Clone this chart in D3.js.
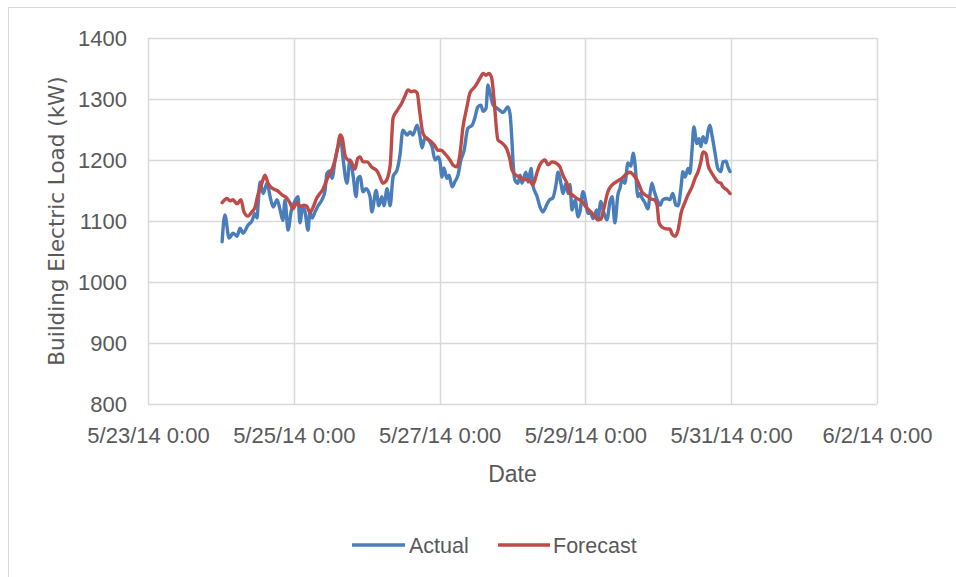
<!DOCTYPE html>
<html>
<head>
<meta charset="utf-8">
<script src="https://cdn.jsdelivr.net/npm/d3@7/dist/d3.min.js"></script>
<style>
  html, body { margin: 0; padding: 0; background: #ffffff; }
  svg { display: block; }
</style>
</head>
<body>
<script>
// Hours after 5/24/14 0:00 and load values (kW)
const actualHours = [0.4,1.3,2.7,4.0,5.3,6.3,7.3,8.9,10.2,11.2,11.9,12.2,12.9,13.9,15.2,16.2,17.2,18.5,19.5,20.4,21.1,22.1,23.1,24.1,25.4,26.0,27.0,27.7,28.7,29.3,30.0,31.0,32.0,33.3,34.3,34.9,35.9,36.6,37.6,38.5,39.5,40.2,41.5,42.5,43.5,44.5,45.1,45.8,46.8,47.8,49.1,49.7,51.1,52.0,53.0,53.7,54.7,55.7,56.7,58.0,59.0,59.9,61.3,62.3,63.2,64.6,65.5,66.2,67.2,68.5,69.5,70.5,71.5,72.1,72.8,73.4,74.4,75.1,76.1,77.1,78.1,79.0,80.0,81.3,82.7,83.6,84.6,85.6,86.3,87.3,87.9,88.6,89.6,91.2,92.9,94.5,95.2,95.8,96.2,96.8,97.8,98.5,99.1,100.4,101.1,102.1,102.7,104.1,105.0,106.0,107.4,108.3,109.3,110.3,111.0,112.0,112.6,113.6,114.3,114.9,115.6,116.6,117.6,118.2,119.2,120.2,120.8,121.8,122.5,123.8,124.1,125.1,126.1,127.1,128.1,128.8,129.7,130.7,131.4,132.0,133.0,134.0,135.0,135.7,136.3,137.3,138.0,138.6,139.6,140.6,141.3,141.9,142.6,143.6,144.6,145.5,146.9,147.8,148.8,149.8,150.5,151.5,152.1,152.8,153.8,154.4,155.1,155.7,156.7,157.4,158.0,158.7,159.7,160.4,161.0,161.7,162.7,163.6,164.6,165.3,166.3,166.9,167.6];
const actualLoad = [1066,1110,1072,1080,1075,1088,1080,1093,1100,1112,1105,1123,1164,1145,1162,1140,1123,1135,1118,1101,1134,1085,1115,1130,1140,1097,1125,1115,1085,1115,1105,1115,1125,1135,1150,1178,1182,1170,1200,1221,1233,1203,1162,1200,1175,1140,1170,1173,1148,1153,1140,1115,1150,1125,1140,1125,1153,1125,1173,1184,1210,1249,1241,1246,1241,1257,1240,1220,1237,1232,1222,1200,1205,1198,1172,1187,1170,1175,1156,1165,1176,1200,1214,1252,1257,1269,1287,1290,1280,1285,1323,1310,1290,1284,1278,1287,1275,1233,1195,1167,1162,1175,1162,1180,1164,1186,1159,1140,1124,1115,1128,1135,1138,1159,1180,1160,1145,1162,1145,1160,1118,1134,1107,1115,1148,1129,1113,1112,1104,1118,1102,1132,1113,1102,1132,1140,1097,1143,1154,1167,1162,1195,1190,1211,1195,1140,1145,1138,1130,1120,1145,1162,1150,1135,1126,1135,1137,1135,1145,1126,1125,1156,1181,1172,1186,1178,1216,1254,1227,1235,1222,1238,1228,1248,1257,1240,1211,1186,1181,1197,1198,1189,1181];

const forecastHours = [0.4,2.0,3.0,4.0,5.3,6.6,7.6,8.9,10.2,11.2,12.2,13.5,14.5,15.5,16.8,18.5,20.1,21.8,22.7,23.7,25.0,26.0,27.4,28.3,29.3,30.3,31.6,32.6,33.6,34.9,36.6,37.6,38.5,39.2,39.9,40.9,41.8,42.8,44.1,45.1,45.8,46.8,48.1,49.7,51.4,52.3,53.3,54.3,55.7,56.7,58.0,59.6,60.6,61.6,62.6,63.6,64.6,65.5,66.5,67.8,68.8,70.2,71.5,72.5,73.8,75.4,76.4,77.7,78.7,79.7,81.0,82.0,83.6,85.3,86.3,87.3,88.3,89.2,89.9,91.2,92.5,94.2,95.2,95.8,97.1,98.5,99.4,100.8,101.8,102.7,104.1,105.0,106.7,107.7,109.0,110.3,111.6,112.6,113.9,114.9,115.6,117.2,118.9,120.5,121.8,123.2,124.1,125.1,126.1,127.4,128.8,130.4,132.0,133.7,134.7,135.7,137.0,138.0,138.6,139.6,140.6,141.6,142.6,143.6,144.2,145.2,146.9,147.8,148.5,149.5,150.5,151.5,152.8,153.8,155.1,156.1,157.1,158.0,158.7,159.7,160.4,161.3,162.3,163.6,164.6,165.3,166.6,167.6];
const forecastLoad = [1130,1137,1133,1135,1128,1135,1115,1108,1115,1122,1143,1162,1175,1162,1154,1150,1143,1137,1130,1120,1130,1124,1126,1124,1114,1122,1138,1145,1152,1168,1185,1200,1222,1241,1237,1207,1200,1198,1185,1203,1205,1197,1197,1188,1182,1173,1162,1165,1190,1269,1281,1294,1305,1315,1312,1313,1310,1277,1244,1235,1232,1225,1216,1216,1210,1200,1192,1189,1210,1254,1287,1310,1320,1334,1342,1339,1342,1333,1300,1233,1228,1217,1200,1184,1175,1172,1168,1168,1165,1159,1180,1192,1200,1192,1197,1195,1189,1175,1162,1145,1143,1137,1132,1121,1115,1107,1102,1103,1121,1148,1159,1165,1170,1178,1180,1176,1167,1155,1148,1143,1140,1136,1135,1126,1098,1090,1087,1087,1079,1075,1085,1113,1131,1143,1156,1170,1181,1197,1213,1210,1191,1181,1173,1164,1162,1156,1151,1145];

const yTicks = [800, 900, 1000, 1100, 1200, 1300, 1400];
const seriesNames = ["Actual", "Forecast"];
const seriesColors = ["#4A7EBB", "#BE4B48"];

const W = 956, H = 577;
const start = new Date(2014, 4, 24, 0, 0);
const toDate = h => new Date(start.getTime() + h * 3600 * 1000);
const actual = actualHours.map((h, i) => ({ t: toDate(h), v: actualLoad[i] }));
const forecast = forecastHours.map((h, i) => ({ t: toDate(h), v: forecastLoad[i] }));

const plot = { left: 148, right: 877, top: 38, bottom: 404 };
const x = d3.scaleTime()
  .domain([new Date(2014, 4, 23), new Date(2014, 5, 2)])
  .range([plot.left, plot.right]);
const y = d3.scaleLinear().domain([800, 1400]).range([plot.bottom, plot.top]);
const xTicks = d3.timeDay.range(new Date(2014, 4, 23), new Date(2014, 5, 3), 2);
const fmt = d3.timeFormat("%-m/%-d/%y %-H:%M");

const svg = d3.select("body").append("svg").attr("width", W).attr("height", H);
svg.append("rect").attr("width", W).attr("height", H).attr("fill", "#fff");
svg.append("rect").attr("x", 8.5).attr("y", 7.5).attr("width", W + 20).attr("height", H + 20)
  .attr("fill", "none").attr("stroke", "#d9d9d9").attr("stroke-width", 1);

const font = "'Liberation Sans', Arial, sans-serif";
const textColor = "#595959";

// gridlines
svg.append("g").selectAll("line").data(yTicks).join("line")
  .attr("x1", plot.left).attr("x2", plot.right)
  .attr("y1", d => Math.round(y(d)) + 0.5).attr("y2", d => Math.round(y(d)) + 0.5)
  .attr("stroke", "#d9d9d9").attr("stroke-width", 1.5);
svg.append("g").selectAll("line").data(xTicks).join("line")
  .attr("x1", d => Math.round(x(d)) + 0.5).attr("x2", d => Math.round(x(d)) + 0.5)
  .attr("y1", plot.top).attr("y2", plot.bottom)
  .attr("stroke", "#d9d9d9").attr("stroke-width", 1.5);

// y axis labels
const yAxis = svg.append("g").attr("transform", `translate(${plot.left},0)`)
  .call(d3.axisLeft(y).tickValues(yTicks).tickSize(0).tickPadding(21).tickFormat(d3.format("d")));
yAxis.select(".domain").remove();
yAxis.selectAll("text").attr("font-family", font).attr("font-size", 22).attr("fill", textColor);

// x axis labels
const xAxis = svg.append("g").attr("transform", `translate(0,${plot.bottom})`)
  .call(d3.axisBottom(x).tickValues(xTicks).tickSize(0).tickPadding(23).tickFormat(fmt));
xAxis.select(".domain").remove();
xAxis.selectAll("text").attr("font-family", font).attr("font-size", 22).attr("fill", textColor);

// axis titles
svg.append("text").attr("x", (plot.left + plot.right) / 2).attr("y", 482)
  .attr("text-anchor", "middle").attr("font-family", font).attr("font-size", 23)
  .attr("fill", textColor).text("Date");
svg.append("text").attr("transform", `translate(64,${(plot.top + plot.bottom) / 2}) rotate(-90)`)
  .attr("text-anchor", "middle").attr("font-family", "'DejaVu Sans', Verdana, sans-serif").attr("font-size", 21.5)
  .attr("fill", textColor).text("Building Electric Load (kW)");

// lines
const line = d3.line().x(d => x(d.t)).y(d => y(d.v)).curve(d3.curveMonotoneX);
[actual, forecast].forEach((s, i) => {
  svg.append("path").datum(s).attr("d", line).attr("fill", "none")
    .attr("stroke", seriesColors[i]).attr("stroke-width", 3.4)
    .attr("stroke-linejoin", "round").attr("stroke-linecap", "round");
});

// legend
const legendItems = [{ x1: 352, x2: 405, tx: 409 }, { x1: 498, x2: 550, tx: 553 }];
const lg = svg.append("g");
seriesNames.forEach((n, i) => {
  const it = legendItems[i];
  lg.append("line").attr("x1", it.x1).attr("x2", it.x2).attr("y1", 545).attr("y2", 545)
    .attr("stroke", seriesColors[i]).attr("stroke-width", 3.4);
  lg.append("text").attr("x", it.tx).attr("y", 553).attr("font-family", font).attr("font-size", 21.5)
    .attr("fill", textColor).text(n);
});
</script>
</body>
</html>
